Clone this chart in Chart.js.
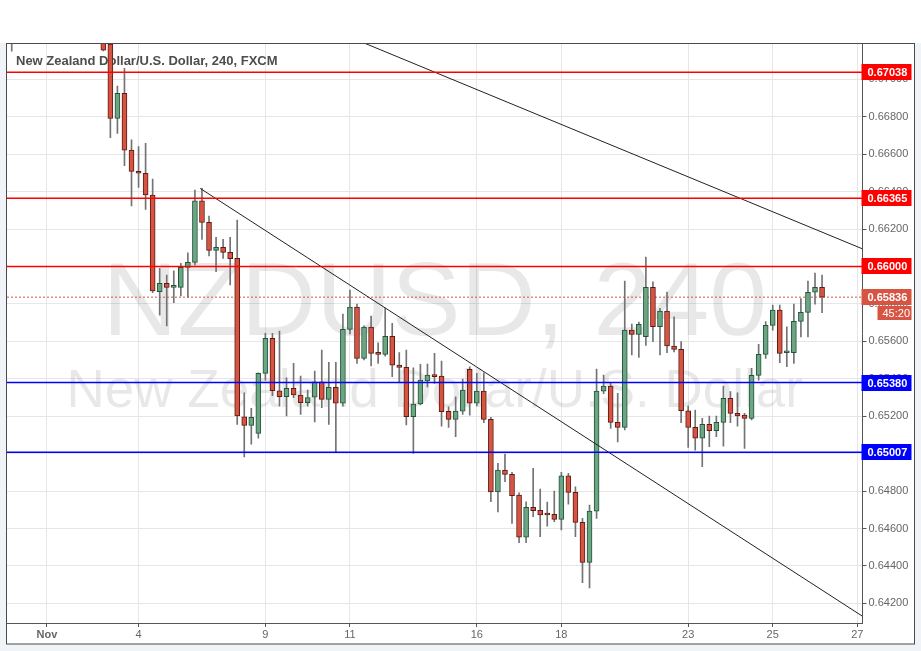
<!DOCTYPE html>
<html>
<head>
<meta charset="utf-8">
<title>NZDUSD, 240</title>
<script src="https://cdn.jsdelivr.net/npm/chart.js@4.4.0/dist/chart.umd.min.js"></script>
<style>
  html, body { margin: 0; padding: 0; background: #f0f3f7; }
  #wrap { width: 921px; height: 651px; }
</style>
</head>
<body>
<div id="wrap"><canvas id="fxChart" width="921" height="651"></canvas></div>
<script>
// 4h bars, 6 per trading day. bar 0 = first candle under the top edge
const barIndex = [-13].concat(Array.from({ length: 103 }, (_, k) => k));

const opens = [
  0.6738, 0.6732, 0.67188, 0.66791, 0.66925, 0.66622, 0.66506, 0.66498, 0.66382, 0.65865,
  0.65910, 0.65888, 0.65888, 0.65995, 0.66022, 0.66351, 0.66236, 0.66086, 0.66102, 0.66075,
  0.66043, 0.65197, 0.65151, 0.65108, 0.65429, 0.65616, 0.65336, 0.65304, 0.65349, 0.65313,
  0.65272, 0.65301, 0.65384, 0.65290, 0.65354, 0.65269, 0.65664, 0.65783, 0.65509, 0.65676,
  0.65536, 0.65530, 0.65627, 0.65473, 0.65461, 0.65197, 0.65265, 0.65389, 0.65423, 0.65414,
  0.65226, 0.65183, 0.65227, 0.65450, 0.65269, 0.65334, 0.65183, 0.64796, 0.64912, 0.64889,
  0.64779, 0.64553, 0.64713, 0.64697, 0.64675, 0.64675, 0.64649, 0.64882, 0.64793, 0.64633,
  0.64419, 0.64693, 0.65334, 0.65361, 0.65167, 0.65140, 0.65660, 0.65637, 0.65625, 0.65888,
  0.65678, 0.65762, 0.65575, 0.65557, 0.65229, 0.65140, 0.65082, 0.65156, 0.65122, 0.65167,
  0.65295, 0.65215, 0.65206, 0.65188, 0.65418, 0.65530, 0.65685, 0.65767, 0.65539, 0.65539,
  0.65707, 0.65755, 0.65862, 0.65888
];
const highs = [
  0.6748, 0.6738, 0.6725, 0.66964, 0.67059, 0.66676, 0.66640, 0.66658, 0.66467, 0.65990,
  0.65954, 0.65977, 0.66017, 0.66073, 0.66408, 0.66417, 0.66269, 0.66156, 0.66145, 0.66156,
  0.66248, 0.65325, 0.65242, 0.65432, 0.65643, 0.65643, 0.65655, 0.65405, 0.65482, 0.65414,
  0.65340, 0.65441, 0.65553, 0.65488, 0.65488, 0.65746, 0.65874, 0.65799, 0.65683, 0.65735,
  0.65592, 0.65778, 0.65696, 0.65540, 0.65553, 0.65459, 0.65477, 0.65478, 0.65536, 0.65495,
  0.65250, 0.65304, 0.65398, 0.65464, 0.65429, 0.65432, 0.65194, 0.64948, 0.64998, 0.64900,
  0.64791, 0.64743, 0.64921, 0.64811, 0.64741, 0.64800, 0.64900, 0.64895, 0.64823, 0.64654,
  0.64725, 0.65452, 0.65420, 0.65379, 0.65322, 0.65922, 0.65692, 0.65703, 0.66050, 0.65918,
  0.65776, 0.65863, 0.65731, 0.65598, 0.65254, 0.65233, 0.65188, 0.65201, 0.65201, 0.65361,
  0.65331, 0.65325, 0.65215, 0.65456, 0.65584, 0.65705, 0.65794, 0.65794, 0.65678, 0.65799,
  0.65828, 0.65922, 0.65965, 0.65954
];
const lows = [
  0.67150, 0.67152, 0.66688, 0.66711, 0.66538, 0.66324, 0.66423, 0.66305, 0.65860, 0.65740,
  0.65682, 0.65806, 0.65842, 0.65835, 0.66008, 0.66145, 0.66056, 0.65972, 0.66043, 0.65901,
  0.65156, 0.64983, 0.65051, 0.65082, 0.65393, 0.65309, 0.65254, 0.65201, 0.65299, 0.65210,
  0.65254, 0.65170, 0.65245, 0.65156, 0.65005, 0.65254, 0.65640, 0.65482, 0.65500, 0.65468,
  0.65482, 0.65521, 0.65411, 0.65380, 0.65153, 0.65001, 0.65260, 0.65357, 0.65375, 0.65147,
  0.65140, 0.65090, 0.65210, 0.65206, 0.65255, 0.65165, 0.64743, 0.64689, 0.64850, 0.64627,
  0.64524, 0.64524, 0.64663, 0.64556, 0.64613, 0.64636, 0.64592, 0.64730, 0.64556, 0.64310,
  0.64283, 0.64654, 0.65320, 0.65135, 0.65063, 0.65126, 0.65527, 0.65514, 0.65578, 0.65598,
  0.65527, 0.65539, 0.65543, 0.65165, 0.65033, 0.65019, 0.64930, 0.65037, 0.65090, 0.65040,
  0.65165, 0.65147, 0.65028, 0.65180, 0.65393, 0.65509, 0.65660, 0.65486, 0.65464, 0.65482,
  0.65624, 0.65624, 0.65799, 0.65753
];
const closes = [
  0.6744, 0.67156, 0.66791, 0.66925, 0.66622, 0.66508, 0.66498, 0.66382, 0.65869, 0.65910,
  0.65888, 0.65890, 0.65995, 0.66022, 0.66351, 0.66236, 0.66086, 0.66102, 0.66075, 0.66041,
  0.65201, 0.65151, 0.65194, 0.65429, 0.65616, 0.65336, 0.65304, 0.65349, 0.65313, 0.65272,
  0.65299, 0.65384, 0.65290, 0.65354, 0.65269, 0.65664, 0.65783, 0.65509, 0.65676, 0.65536,
  0.65530, 0.65627, 0.65473, 0.65461, 0.65197, 0.65265, 0.65393, 0.65420, 0.65411, 0.65224,
  0.65183, 0.65227, 0.65340, 0.65269, 0.65334, 0.65183, 0.64796, 0.64912, 0.64889, 0.64775,
  0.64553, 0.64713, 0.64695, 0.64673, 0.64672, 0.64649, 0.64882, 0.64793, 0.64633, 0.64419,
  0.64693, 0.65334, 0.65361, 0.65167, 0.65140, 0.65660, 0.65637, 0.65691, 0.65888, 0.65678,
  0.65762, 0.65575, 0.65557, 0.65229, 0.65140, 0.65082, 0.65156, 0.65122, 0.65167, 0.65295,
  0.65215, 0.65202, 0.65188, 0.65418, 0.65530, 0.65685, 0.65767, 0.65536, 0.65542, 0.65707,
  0.65755, 0.65862, 0.65888, 0.65836
];

const dayTickBars = [-8, 5, 23, 35, 53, 65, 83, 95, 107];
const dayTickLabels = ["Nov", "4", "9", "11", "16", "18", "23", "25", "27"];
const priceTicks = [0.642, 0.644, 0.646, 0.648, 0.650, 0.652, 0.654, 0.656, 0.658, 0.660, 0.662, 0.664, 0.666, 0.668, 0.670];

const resistance = [0.67038, 0.66365, 0.66000];
const support = [0.65380, 0.65007];
// trend lines as [bar, price] pairs
const upperTrend = [[30, 0.67303], [107.74, 0.66094]];
const lowerTrend = [[13.75, 0.66417], [107.74, 0.64131]];
const lastPrice = 0.65836;
const countdown = "45:20";

const titleText = "New Zealand Dollar/U.S. Dollar, 240, FXCM";
const symbolText = "NZDUSD, 240";
const nameText = "New Zealand Dollar/U.S. Dollar";

const X_MIN = -13.67, X_MAX = 107.74;
const Y_MIN = 0.64095, Y_MAX = 0.67194;

const UP_FILL = "#6ba583", UP_LINE = "#225437";
const DOWN_FILL = "#d75442", DOWN_LINE = "#5b1a13";
const FONT = "'Liberation Sans', Arial, sans-serif";

const isUp = opens.map((o, k) => closes[k] >= o);

function flatLine(price, color, width, dash) {
  return {
    type: "line",
    data: [{ x: X_MIN, y: price }, { x: X_MAX, y: price }],
    borderColor: color, borderWidth: width, borderDash: dash || [],
    pointRadius: 0, order: 0
  };
}
function trendLine(pts) {
  return {
    type: "line",
    data: pts.map(p => ({ x: p[0], y: p[1] })),
    borderColor: "#222", borderWidth: 1, pointRadius: 0, order: 0
  };
}

const overlay = {
  id: "overlay",
  beforeDraw(chart) {
    const c = chart.ctx;
    c.save();
    c.fillStyle = "#f0f3f7";
    c.fillRect(0, 0, chart.width, chart.height);
    c.fillStyle = "#ffffff";
    c.fillRect(0, 0, chart.width, 43);
    c.fillRect(7, 43, 908, 601);
    c.restore();
  },
  beforeDatasetsDraw(chart) {
    const c = chart.ctx, a = chart.chartArea;
    c.save();
    c.beginPath();
    c.rect(a.left, a.top, a.right - a.left, a.bottom - a.top);
    c.clip();
    const cx = (a.left + a.right) / 2;
    c.fillStyle = "rgba(0,0,0,0.09)";
    c.textAlign = "center";
    c.textBaseline = "alphabetic";
    c.font = "104px " + FONT;
    c.fillText(symbolText, cx, 335);
    c.font = "53px " + FONT;
    c.fillText(nameText, cx, 407);
    c.textAlign = "left";
    c.fillStyle = "#4d4d4d";
    c.font = "bold 13px " + FONT;
    c.fillText(titleText, 16, 65);
    c.restore();
  },
  afterDraw(chart) {
    const c = chart.ctx, ys = chart.scales.y, a = chart.chartArea;
    c.save();
    c.font = "bold 11px " + FONT;
    c.textBaseline = "middle";
    c.textAlign = "left";
    const tag = (v, bg, text) => {
      const y = Math.round(ys.getPixelForValue(v));
      c.fillStyle = bg;
      c.fillRect(a.right - 1, y - 8, 50, 16);
      c.fillStyle = "#fff";
      c.fillText(text, a.right + 5, y + 1);
      return y;
    };
    resistance.forEach(v => tag(v, "#ff0000", v.toFixed(5)));
    support.forEach(v => tag(v, "#0000ff", v.toFixed(5)));
    const py = tag(lastPrice, DOWN_FILL, lastPrice.toFixed(5));
    c.fillStyle = DOWN_FILL;
    c.fillRect(a.right + 15, py + 9, 34, 14);
    c.fillStyle = "#fff";
    c.font = "11px " + FONT;
    c.fillText(countdown, a.right + 20, py + 16.5);
    // widget frame
    c.strokeStyle = "#4a4a4a";
    c.lineWidth = 1;
    c.strokeRect(6.5, 43.5, 908, 600.5);
    c.restore();
  }
};

const ctx = document.getElementById("fxChart").getContext("2d");

const fxChart = new Chart(ctx, {
  type: "bar",
  data: {
    datasets: [
      ...resistance.map(v => flatLine(v, "#ff0000", 1.5)),
      ...support.map(v => flatLine(v, "#0000ff", 1.5)),
      trendLine(upperTrend),
      trendLine(lowerTrend),
      Object.assign(flatLine(lastPrice, DOWN_FILL, 1, [2, 2]), { order: 3 }),
      {
        label: "body",
        data: barIndex.map((x, k) => ({ x, y: [Math.min(opens[k], closes[k]), Math.max(opens[k], closes[k])] })),
        backgroundColor: isUp.map(u => u ? UP_FILL : DOWN_FILL),
        borderColor: isUp.map(u => u ? UP_LINE : DOWN_LINE),
        borderWidth: 1,
        borderSkipped: false,
        barThickness: 5,
        minBarLength: 2,
        grouped: false,
        order: 1
      },
      {
        label: "wick",
        data: barIndex.map((x, k) => ({ x, y: [lows[k], highs[k]] })),
        backgroundColor: "#737375",
        borderWidth: 0,
        barThickness: 1,
        grouped: false,
        order: 2
      }
    ]
  },
  options: {
    responsive: false,
    animation: false,
    layout: { padding: { left: 7, top: 43, right: 6, bottom: 7 } },
    plugins: { legend: { display: false }, tooltip: { enabled: false } },
    scales: {
      x: {
        type: "linear",
        min: X_MIN,
        max: X_MAX,
        offset: false,
        afterBuildTicks: s => { s.ticks = dayTickBars.map(v => ({ value: v })); },
        afterFit: s => { s.height = 21; },
        grid: { offset: false, color: "#e6e6e6", tickColor: "#555", tickLength: 4 },
        border: { color: "#555" },
        ticks: {
          autoSkip: false,
          maxRotation: 0,
          padding: 1,
          color: "#666",
          font: c => ({ family: FONT, size: 11, weight: c.tick && c.tick.value === dayTickBars[0] ? "bold" : "normal" }),
          callback: v => dayTickLabels[dayTickBars.indexOf(v)]
        }
      },
      y: {
        position: "right",
        min: Y_MIN,
        max: Y_MAX,
        afterBuildTicks: s => { s.ticks = priceTicks.map(v => ({ value: v })); },
        afterFit: s => { s.width = 52.5; },
        grid: { color: "#e6e6e6", tickColor: "#555", tickLength: 4 },
        border: { color: "#555" },
        ticks: {
          autoSkip: false,
          padding: 2,
          color: "#666",
          font: { family: FONT, size: 11 },
          callback: v => v.toFixed(5)
        }
      }
    }
  },
  plugins: [overlay]
});
</script>
</body>
</html>
